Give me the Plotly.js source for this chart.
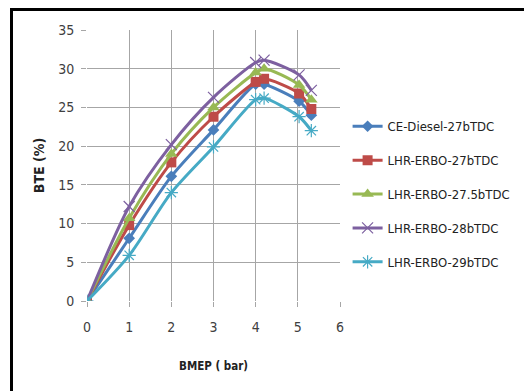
<!DOCTYPE html>
<html>
<head>
<meta charset="utf-8">
<script src="https://cdn.plot.ly/plotly-3.0.1.min.js"></script>
<style>
  html, body { margin: 0; padding: 0; background: #fff; }
  #wrap { position: relative; width: 524px; height: 391px; overflow: hidden; }
  #frame { position: absolute; left: 10px; top: 8px; width: 600px; height: 500px;
           border-left: 3px solid #000; border-top: 3px solid #000; pointer-events: none; z-index: 5; }
  #chart { position: absolute; left: 0; top: 0; width: 524px; height: 391px; }
</style>
</head>
<body>
<div id="wrap">
  <div id="chart"></div>
  <div id="frame"></div>
</div>
<script>
const bmep = [0, 1, 2, 3, 4, 4.2, 5.03, 5.32];
const seriesNames = ["CE-Diesel-27bTDC", "LHR-ERBO-27bTDC", "LHR-ERBO-27.5bTDC", "LHR-ERBO-28bTDC", "LHR-ERBO-29bTDC"];
const bteDiesel27 = [0, 8.1, 16.1, 22.1, 28.0, 28.0, 25.8, 24.0];
const bteErbo27   = [0, 9.8, 17.9, 23.8, 28.3, 28.7, 26.8, 24.8];
const bteErbo275  = [0, 10.7, 19.0, 25.0, 29.5, 30.0, 27.9, 26.0];
const bteErbo28   = [0, 12.2, 20.2, 26.3, 30.8, 31.1, 29.2, 27.2];
const bteErbo29   = [0, 5.9, 14.0, 19.9, 26.0, 26.2, 23.8, 22.0];

const values = [bteDiesel27, bteErbo27, bteErbo275, bteErbo28, bteErbo29];
const colors = ["#4a7ebb", "#be4b48", "#98b954", "#7d60a0", "#46aac5"];
const symbols = ["diamond", "square", "triangle-up", "x-thin-open", "asterisk-open"];
const sizes = [9, 10, 11, 11, 11];

const FONT = "'DejaVu Sans Condensed', 'Liberation Sans Narrow', 'Liberation Sans', Arial, sans-serif";

const traces = values.map((v, i) => ({
  x: bmep, y: v, name: seriesNames[i], type: "scatter", mode: "lines+markers",
  legendgroup: "g" + i,
  line: { color: colors[i], width: 3, shape: "spline", smoothing: 0.8 },
  marker: { symbol: symbols[i], size: sizes[i], color: colors[i],
            line: { color: colors[i], width: (i >= 3 ? 1.2 : 0) } }
}));

const layout = {
  width: 524, height: 391,
  margin: { l: 87, r: 184, t: 30, b: 90, autoexpand: false },
  paper_bgcolor: "#fff", plot_bgcolor: "#fff",
  font: { family: FONT, size: 13, color: "#404040" },
  showlegend: true,
  legend: {
    x: 1.03, y: 0.70, xanchor: "left", yanchor: "top",
    traceorder: "grouped", tracegroupgap: 14,
    itemwidth: 30,
    font: { family: FONT, size: 13, color: "#222" },
    bgcolor: "rgba(0,0,0,0)"
  },
  xaxis: {
    range: [0, 6], dtick: 1, tick0: 0,
    showgrid: true, gridcolor: "#a6a6a6", gridwidth: 1,
    zeroline: false, showline: false,
    ticks: "outside", ticklen: 5, tickcolor: "#a6a6a6",
    ticklabelstandoff: 8,
    tickfont: { family: FONT, size: 14, color: "#404040" },
    title: { text: "<b>BMEP ( bar)</b>", font: { family: FONT, size: 11.5, color: "#222" }, standoff: 28 },
    fixedrange: true
  },
  yaxis: {
    range: [0, 35], dtick: 5, tick0: 0,
    showgrid: true, gridcolor: "#a6a6a6", gridwidth: 1,
    zeroline: false, showline: false,
    ticks: "outside", ticklen: 5, tickcolor: "#a6a6a6",
    ticklabelstandoff: 4,
    tickfont: { family: FONT, size: 14, color: "#404040" },
    title: { text: "<b>BTE (%)</b>", font: { family: FONT, size: 14, color: "#222" }, standoff: 10 },
    fixedrange: true
  }
};

Plotly.newPlot("chart", traces, layout, { displayModeBar: false, staticPlot: true });
</script>
</body>
</html>
